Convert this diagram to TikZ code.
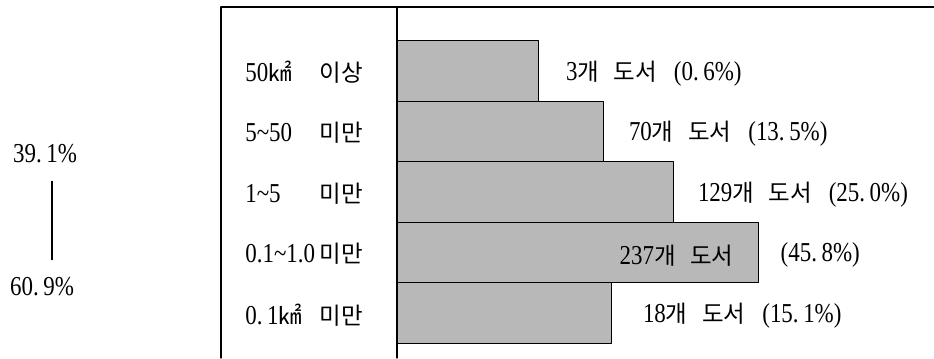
\documentclass[tikz,border=0pt]{standalone}
\usepackage{fontspec}
\setmainfont{Liberation Serif}[FakeStretch=0.84]
\newfontfamily\kr{Noto Sans CJK KR}[Scale=0.86]
\usepackage{tikz}
\usetikzlibrary{positioning,calc}

\newcommand{\wsp}{\hspace{0.62em}}

\begin{document}
\begin{tikzpicture}[
	x=0.75pt,y=-0.75pt,
	line cap=round,line join=round,
	font=\fontsize{20.5}{22}\selectfont,
	bar/.style={draw=black, line width=0.8pt, fill=black!28,
		inner sep=0pt, anchor=north west, minimum height=\rowH*0.75pt},
	rowlabel/.style={inner sep=0pt, anchor=center}
	]
	% ---- parameters
	\def\axX{397}    % x of bar axis
	\def\topY{40}    % top of first bar
	\def\rowH{60.6}  % height of each bar
	
	\useasboundingbox (0,0) rectangle (934,358);
	
	% frame
	\coordinate (TL) at (221,7);
	\coordinate (TR) at (934,7);
	\coordinate (BL) at (221,358);
	\coordinate (AT) at (\axX,7);
	\coordinate (AB) at (\axX,358);
	\draw[black, line width=0.9pt] (BL) -- (TL) -- (TR);
	\draw[black, line width=0.9pt] (AT) -- (AB);
	
	% bars + counts
	\foreach \w/\g/\txt [count=\i] in {
		141/24/{3{\kr 개\wsp 도서}\wsp(0.\,6\%)},
		206/22/{70{\kr 개\wsp 도서}\wsp(13.\,5\%)},
		276/21/{129{\kr 개\wsp 도서}\wsp(25.\,0\%)},
		361/0/{},
		214/28/{18{\kr 개\wsp 도서}\wsp(15.\,1\%)}}{
		\node[bar, minimum width=\w*0.75pt] (b\i) at (\axX, {\topY+(\i-1)*\rowH}) {};
		\node[anchor=west, inner sep=2pt, yshift=-2pt] (n\i) at ([xshift=\g*0.75pt]b\i.east) {\txt};
	}
	\node[anchor=east, inner sep=2pt, yshift=-2pt] (in4) at ([xshift=-17pt]b4.east) {237{\kr 개\wsp 도서}};
	\node[anchor=west, inner sep=2pt, yshift=-2pt, right=14pt of b4.east] (n4) {(45.\,8\%)};
	
	% size classes
	\foreach \txt [count=\i] in {
		{50{\kr ㎢}\hfill{\kr 이상}},
		{5\textasciitilde 50\hfill{\kr 미만}},
		{1\textasciitilde 5\hfill{\kr 미만}},
		{0.1\textasciitilde 1.0\hfill{\kr 미만}},
		{0.\,1{\kr ㎢}\hfill{\kr 미만}}}{
		\node[rowlabel] (c\i) at (304, {\topY+(\i-0.5)*\rowH+2}) {\hbox to 88pt{\txt}};
	}
	
	% share
	\node (pTop) at (45,154) {39.\,1\%};
	\node (pBot) at (42,287) {60.\,9\%};
	\draw[black, line width=0.8pt, shorten <=10pt, shorten >=10pt]
		($(pTop.south)+(7,0)$) -- ($(pBot.north)+(10,0)$);
\end{tikzpicture}
\end{document}
